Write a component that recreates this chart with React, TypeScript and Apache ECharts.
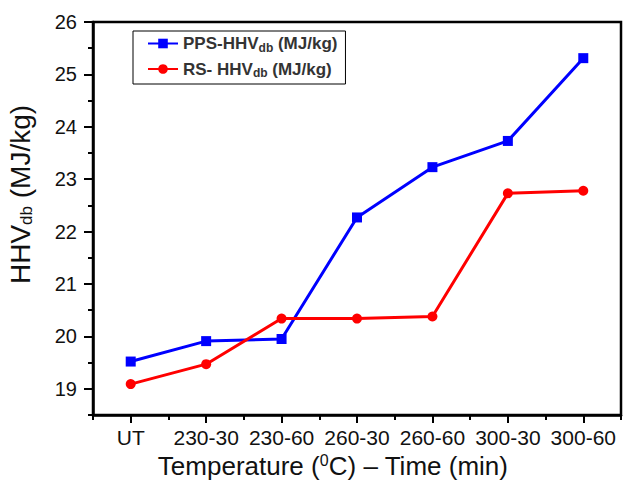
import React, { useEffect, useRef } from "react";
import * as echarts from "echarts";

const categories = ["UT", "230-30", "230-60", "260-30", "260-60", "300-30", "300-60"];
const ppsValues = [19.52, 19.91, 19.95, 22.27, 23.23, 23.73, 25.31];
const rsValues = [19.09, 19.47, 20.34, 20.34, 20.38, 22.73, 22.78];
const yMajorTicks = [19, 20, 21, 22, 23, 24, 25, 26];
const yMinorTicks = [18.5, 19.5, 20.5, 21.5, 22.5, 23.5, 24.5, 25.5];
const yMin = 18.5;
const yMax = 26;

const FONT = "'Liberation Sans', Arial, sans-serif";

export default function App() {
  const ref = useRef<HTMLDivElement>(null);
  useEffect(() => {
    if (!ref.current) return;
    const chart = echarts.init(ref.current, undefined, { renderer: "svg" });
    const axisLineStyle = { color: "#000", width: 2.5 };
    const tickStyle = { color: "#000", width: 2 };
    const legendRich = {
      a: { fontSize: 17, fontWeight: "bold", color: "#333", fontFamily: FONT, lineHeight: 20 },
      b: { fontSize: 12, fontWeight: "bold", color: "#333", fontFamily: FONT, verticalAlign: "bottom", lineHeight: 12 },
    };
    chart.setOption({
      animation: false,
      backgroundColor: "#fff",
      grid: { left: 93, right: 8, top: 22, bottom: 73, show: true, borderColor: "#000", borderWidth: 2.5, outerBoundsMode: "none" },
      legend: {
        orient: "vertical",
        left: 133,
        top: 31,
        data: ["PPS", "RS"],
        borderColor: "#000",
        borderWidth: 1,
        borderRadius: 0,
        padding: [4, 8, 5, 14],
        itemWidth: 30,
        itemHeight: 12,
        itemGap: 7,
        formatter: (name: string) =>
          name === "PPS" ? "{a|PPS-HHV}{b|db}{a| (MJ/kg)}" : "{a|RS- HHV}{b|db}{a| (MJ/kg)}",
        textStyle: { rich: legendRich },
      },
      xAxis: [
        {
          type: "category",
          data: categories,
          boundaryGap: true,
          position: "bottom",
          axisLine: { show: true, lineStyle: axisLineStyle },
          axisTick: { show: true, alignWithLabel: true, length: 8, lineStyle: tickStyle },
          axisLabel: { fontSize: 21, color: "#111", fontFamily: FONT, margin: 12, interval: 0 },
          splitLine: { show: false },
          name: "Temperature ({s|0}C) – Time (min)",
          nameLocation: "middle",
          nameGap: 35,
          nameTextStyle: {
            fontSize: 26,
            color: "#111",
            fontFamily: FONT,
            padding: [0, 48, 0, 0],
            rich: {
              s: { fontSize: 16, color: "#111", fontFamily: FONT, verticalAlign: "top", lineHeight: 20 },
            },
          },
        },
        {
          type: "category",
          data: categories,
          boundaryGap: true,
          position: "bottom",
          axisLine: { show: false },
          axisTick: { show: true, alignWithLabel: false, interval: 0, length: 5, lineStyle: tickStyle },
          axisLabel: { show: false },
          splitLine: { show: false },
        },
      ],
      yAxis: [
        {
          type: "value",
          min: yMin,
          max: yMax,
          position: "left",
          axisLine: { show: true, lineStyle: axisLineStyle },
          axisTick: { show: true, length: 9, lineStyle: tickStyle, customValues: yMajorTicks },
          axisLabel: { fontSize: 20, color: "#111", fontFamily: FONT, margin: 16, customValues: yMajorTicks },
          splitLine: { show: false },
          name: "{a|HHV}{b|db}{a| (MJ/kg)}",
          nameLocation: "middle",
          nameRotate: 90,
          nameGap: 58,
          nameTextStyle: {
            padding: [0, 0, 0, 48],
            rich: {
              a: { fontSize: 28, color: "#111", fontFamily: FONT, lineHeight: 30 },
              b: { fontSize: 17, color: "#111", fontFamily: FONT, verticalAlign: "bottom", lineHeight: 17 },
            },
          },
        },
        {
          type: "value",
          min: yMin,
          max: yMax,
          position: "left",
          axisLine: { show: false },
          axisTick: { show: true, length: 5, lineStyle: tickStyle, customValues: yMinorTicks },
          axisLabel: { show: false, customValues: yMinorTicks },
          splitLine: { show: false },
        },
      ],
      series: [
        {
          name: "PPS",
          type: "line",
          data: ppsValues,
          xAxisIndex: 0,
          yAxisIndex: 0,
          symbol: "rect",
          symbolSize: 10,
          color: "#0000ff",
          lineStyle: { color: "#0000ff", width: 3 },
          itemStyle: { color: "#0000ff" },
        },
        {
          name: "RS",
          type: "line",
          data: rsValues,
          xAxisIndex: 0,
          yAxisIndex: 0,
          symbol: "circle",
          symbolSize: 10,
          color: "#ff0000",
          lineStyle: { color: "#ff0000", width: 3 },
          itemStyle: { color: "#ff0000" },
        },
      ],
    });
    return () => chart.dispose();
  }, []);
  return (
    <div
      ref={ref}
      style={{ position: "fixed", left: 0, top: 0, width: 629, height: 488, background: "#fff" }}
    />
  );
}
